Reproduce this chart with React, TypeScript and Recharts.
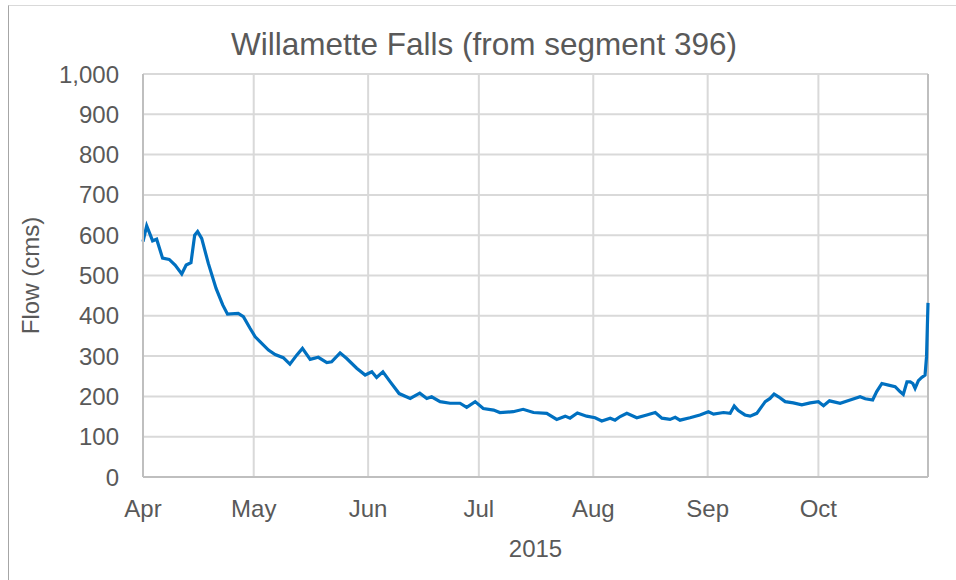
import React from 'react';
import { LineChart, Line, XAxis, YAxis, CartesianGrid, ReferenceLine, Label } from 'recharts';

// Day index (0 = Apr 1, 2015) and flow in cms
const days: number[] = [
  0, 1, 2, 2.6, 3.7, 5.3, 7.1, 8.7, 10.5, 11.7, 13, 14, 14.8, 15.9, 17.7, 19.8, 21.6, 22.9, 25.8, 27.2,
  29, 30.4, 31.7, 34, 35.8, 38, 39.8, 41.7, 43.2, 45.3, 47.5, 49.8, 51.1, 53.4, 55.2, 57.9, 60.2, 62, 63.3, 65,
  67, 69.4, 72.4, 75, 76.9, 78.2, 80.5, 83.2, 85.9, 87.7, 90, 92.2, 95, 96.7, 100.3, 103, 105.8, 109.4, 112.1, 114.4,
  115.7, 117.7, 120.2, 122.5, 124.3, 126.6, 127.9, 129.3, 131.1, 133.8, 136.5, 138.8, 140.6, 142.8, 144.2, 145.5, 148.2, 150.9, 153.2, 154.6,
  157.3, 159.1, 160.2, 161.3, 163.1, 164.5, 166.3, 168.6, 169.9, 171, 172.2, 174, 176.2, 178.5, 180.8, 183, 184.4, 186, 188.9, 191.6,
  194.3, 195.7, 197.7, 198.8, 200.2, 202, 203.8, 205.1, 206, 207, 207.9, 208.6, 209.2, 210.1, 211, 211.9, 212.3, 212.7,
];
const flows: number[] = [
  584, 623, 600, 586, 590, 543, 540, 526, 504, 526, 532, 600, 609, 592, 530, 468, 427, 404, 406, 398,
  369, 348, 336, 315, 304, 296, 280, 303, 319, 292, 297, 284, 286, 308, 294, 270, 253, 261, 247, 261,
  236, 207, 195, 208, 195, 199, 187, 183, 183, 173, 187, 170, 166, 160, 162, 168, 160, 158, 143, 151,
  146, 159, 151, 147, 139, 146, 141, 150, 158, 147, 154, 160, 146, 143, 148, 141, 147, 154, 162, 156,
  160, 158, 176, 165, 154, 151, 158, 187, 195, 206, 199, 187, 184, 179, 184, 187, 177, 189, 183, 191,
  199, 194, 191, 212, 232, 228, 224, 212, 205, 236, 236, 232, 220, 239, 247, 253, 298, 432,
];

const monthTicks: number[] = [0, 30, 61, 91, 122, 153, 183, 212.7];
const monthLabels: string[] = ['Apr', 'May', 'Jun', 'Jul', 'Aug', 'Sep', 'Oct', ''];
const flowTicks: number[] = [0, 100, 200, 300, 400, 500, 600, 700, 800, 900, 1000];

const data = days.map((d, i) => ({ day: d, flow: flows[i] }));

const FONT = '"Liberation Sans", Arial, sans-serif';
const TEXT = '#595959';
const X_END = monthTicks[monthTicks.length - 1];

export default function App() {
  return (
    <div style={{ position: 'absolute', left: 0, top: 0, width: 956, height: 580, overflow: 'hidden', background: '#fff' }}>
      <div
        style={{
          position: 'absolute',
          left: 8,
          top: 5,
          width: 948,
          height: 575,
          borderTop: '1px solid #d9d9d9',
          borderLeft: '1px solid #a6a6a6',
          boxSizing: 'border-box',
        }}
      />
      <div
        style={{
          position: 'absolute',
          left: 0,
          top: 28,
          width: 968,
          textAlign: 'center',
          fontFamily: FONT,
          fontSize: 31.5,
          lineHeight: '32px',
          color: TEXT,
        }}
      >
        Willamette Falls (from segment 396)
      </div>
      <div style={{ position: 'absolute', left: 0, top: 0 }}>
        <LineChart width={956} height={580} data={data} margin={{ top: 74, right: 28, bottom: 0, left: 0 }}>
          <CartesianGrid stroke="#d9d9d9" strokeWidth={2} />
          <XAxis
            dataKey="day"
            type="number"
            domain={[0, X_END]}
            ticks={monthTicks}
            tickFormatter={(v: number) => monthLabels[monthTicks.indexOf(v)] ?? ''}
            height={103}
            tickLine={false}
            tickSize={0}
            tickMargin={23}
            axisLine={{ stroke: '#bfbfbf', strokeWidth: 2 }}
            tick={{ fill: TEXT, fontSize: 24, fontFamily: FONT }}
            interval={0}
          >
            <Label value="2015" position="insideBottom" offset={23} fill={TEXT} fontSize={24} fontFamily={FONT} />
          </XAxis>
          <YAxis
            type="number"
            domain={[0, 1000]}
            ticks={flowTicks}
            tickFormatter={(v: number) => v.toLocaleString('en-US')}
            width={143}
            tickLine={false}
            tickSize={0}
            tickMargin={24}
            axisLine={{ stroke: '#bfbfbf', strokeWidth: 2 }}
            tick={{ fill: TEXT, fontSize: 24, fontFamily: FONT }}
            interval={0}
          >
            <Label value="Flow (cms)" angle={-90} position="center" dx={-41} fill={TEXT} fontSize={24} fontFamily={FONT} />
          </YAxis>
          <ReferenceLine x={X_END} stroke="#bfbfbf" strokeWidth={2} />
          <Line
            type="linear"
            dataKey="flow"
            stroke="#0070C0"
            strokeWidth={3.2}
            dot={false}
            isAnimationActive={false}
          />
        </LineChart>
      </div>
    </div>
  );
}
